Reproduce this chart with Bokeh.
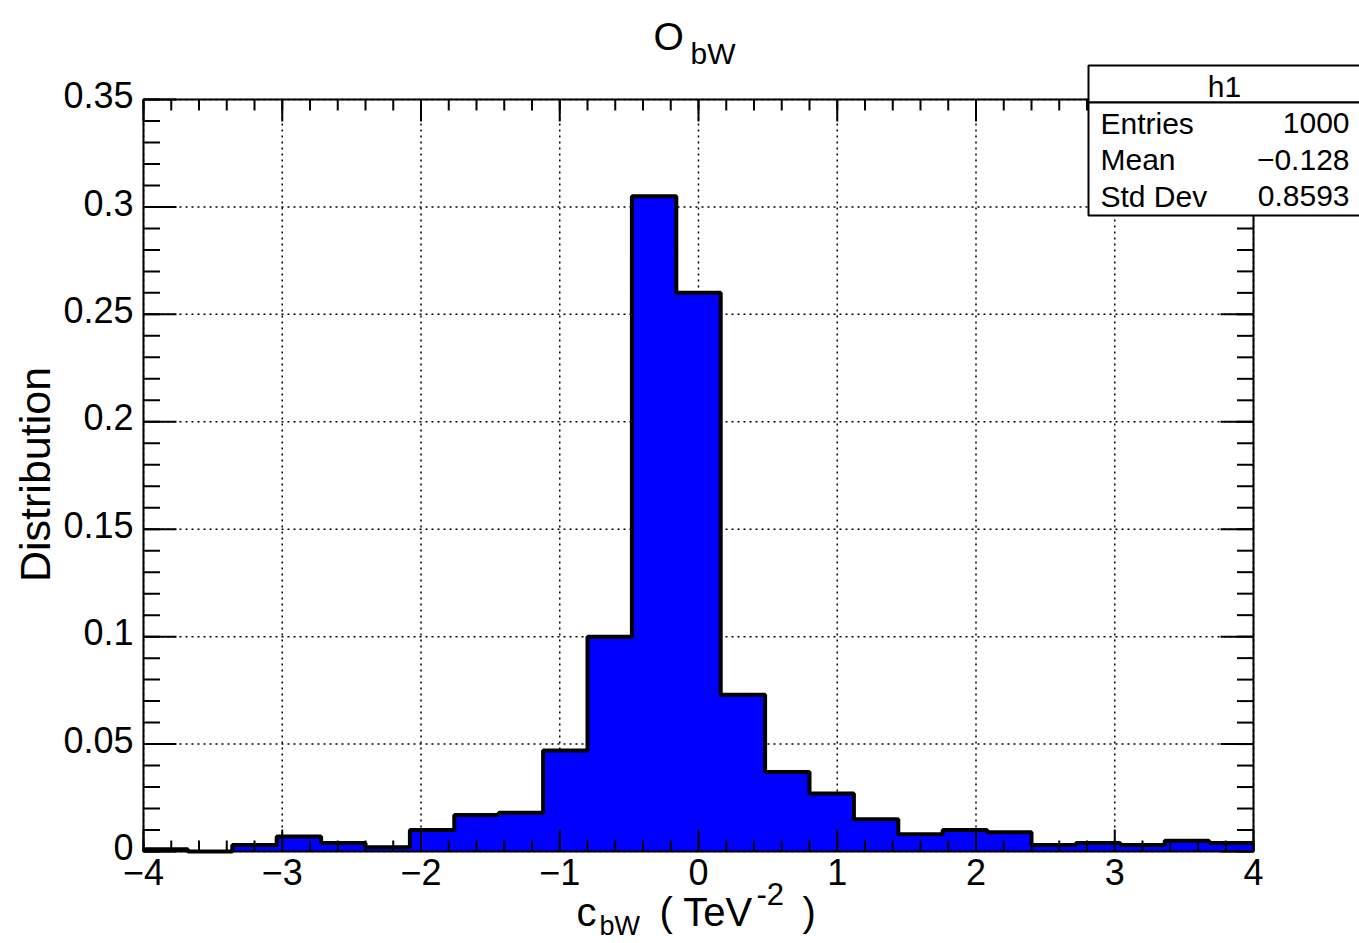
import math
import numpy as np
from bokeh.plotting import figure
from bokeh.models import Range1d
from bokeh.core.properties import value
from bokeh.embed import file_html
from bokeh.resources import INLINE

# ---- histogram h1: c_bW distribution, 25 equal bins on [-4, 4] ----
bin_edges = list(np.linspace(-4.0, 4.0, 26))
bin_values = [0.001, 0.000, 0.003, 0.007, 0.004, 0.002, 0.010, 0.017, 0.018,
              0.047, 0.100, 0.305, 0.260, 0.073, 0.037, 0.027, 0.015, 0.008,
              0.010, 0.009, 0.003, 0.004, 0.003, 0.005, 0.004]

stats_title = "h1"
stats_names = ["Entries", "Mean", "Std Dev"]
stats_values = ["1000", "\u22120.128", "0.8593"]

x_major = [-4, -3, -2, -1, 0, 1, 2, 3, 4]
x_labels = ["\u22124", "\u22123", "\u22122", "\u22121", "0", "1", "2", "3", "4"]
y_major = [0, 0.05, 0.1, 0.15, 0.2, 0.25, 0.3, 0.35]
y_labels = ["0", "0.05", "0.1", "0.15", "0.2", "0.25", "0.3", "0.35"]
x_minor = [round(-4 + 0.2 * i, 2) for i in range(41)]
y_minor = [round(0.01 * i, 2) for i in range(36)]

# ---- canvas geometry: the plotting frame is the whole canvas, the
#      histogram pad occupies the box [L, W-R] x [T, H-B] in pixels ----
W, H = 1359, 943
L, R, T, B = 143, 106, 99, 92
XMIN, XMAX = -4.0, 4.0
YMIN, YMAX = 0.0, 0.35
FONT = "Liberation Sans"
PX = (XMAX - XMIN) / (W - L - R)   # data x per pixel
PY = (YMAX - YMIN) / (H - T - B)   # data y per pixel
# the text glyph sits its alphabetic baseline this fraction of an em low
BASE_FIX = 0.37
BASE_FIX_ROT = 0.42


def sx(px):
    """canvas pixel column -> data x"""
    return XMIN + (px - L) * PX


def sy(py):
    """canvas pixel row (from top) -> data y"""
    return YMIN + (H - B - py) * PY


p = figure(width=W, height=H,
           x_range=Range1d(sx(0), sx(W)), y_range=Range1d(sy(H), sy(0)),
           output_backend="svg", toolbar_location=None, tools="",
           x_axis_location=None, y_axis_location=None, min_border=0)
p.outline_line_color = None
p.background_fill_color = "white"
p.border_fill_color = "white"
p.grid.visible = False

# ---- dotted grid at major ticks ----
p.segment(x0=x_major, x1=x_major, y0=[YMIN] * len(x_major), y1=[YMAX] * len(x_major),
          line_color="black", line_width=1.5, line_dash="2 4")
p.segment(x0=[XMIN] * len(y_major), x1=[XMAX] * len(y_major), y0=y_major, y1=y_major,
          line_color="black", line_width=1.5, line_dash="2 4")

# ---- histogram fill and outline ----
step_y = bin_values + [bin_values[-1]]
p.varea_step(x=bin_edges, y1=[0.0] * len(bin_edges), y2=step_y,
             step_mode="after", fill_color="#0000ff")
p.step(x=bin_edges, y=step_y, mode="after", line_color="black", line_width=4)

# ---- frame ----
p.quad(left=[XMIN], right=[XMAX], bottom=[YMIN], top=[YMAX],
       fill_color=None, line_color="black", line_width=2)

# ---- ticks on all four sides, pointing inward ----
xmaj_len, xmin_len = 22 * PY, 11 * PY
ymaj_len, ymin_len = 33 * PX, 16.5 * PX
for ticks, ln in ((x_major, xmaj_len), (x_minor, xmin_len)):
    n = len(ticks)
    p.segment(x0=ticks, x1=ticks, y0=[YMIN] * n, y1=[YMIN + ln] * n,
              line_color="black", line_width=2)
    p.segment(x0=ticks, x1=ticks, y0=[YMAX] * n, y1=[YMAX - ln] * n,
              line_color="black", line_width=2)
for ticks, ln in ((y_major, ymaj_len), (y_minor, ymin_len)):
    n = len(ticks)
    p.segment(x0=[XMIN] * n, x1=[XMIN + ln] * n, y0=ticks, y1=ticks,
              line_color="black", line_width=2)
    p.segment(x0=[XMAX] * n, x1=[XMAX - ln] * n, y0=ticks, y1=ticks,
              line_color="black", line_width=2)

TICK_SIZE = 36
tick_lift = BASE_FIX * TICK_SIZE
# x tick labels, centred under each major tick (baseline 34 px below the frame)
p.text(x=x_major, y=[YMIN - (34 - tick_lift) * PY] * len(x_major), text=x_labels,
       text_font=value(FONT), text_font_size=value(f"{TICK_SIZE}px"), text_color="black",
       text_align="center", text_baseline="alphabetic")
# y tick labels, right aligned left of the frame (baseline 9 px below the tick)
p.text(x=[XMIN - 10 * PX] * len(y_major), y=[v - (9 - tick_lift) * PY for v in y_major],
       text=y_labels,
       text_font=value(FONT), text_font_size=value(f"{TICK_SIZE}px"), text_color="black",
       text_align="right", text_baseline="alphabetic")


def label(px, py, s, size, align="left", rotated=False):
    if rotated:
        x, y, angle = sx(px - BASE_FIX_ROT * size), sy(py), math.pi / 2
    else:
        x, y, angle = sx(px), sy(py - BASE_FIX * size), 0.0
    p.text(x=[x], y=[y], text=[s], angle=angle,
           text_font=value(FONT), text_font_size=value(f"{size}px"),
           text_color="black", text_align=align, text_baseline="alphabetic")


# ---- title O_bW ----
label(653, 50, "O", 39)
label(690, 64, "bW", 30)

# ---- x axis title c_bW ( TeV^-2 ) ----
label(576, 926, "c", 40)
label(599, 935, "bW", 27)
label(659, 926, "( TeV", 40)
label(756, 905, "-2", 31)
label(802, 926, ")", 40)

# ---- y axis title ----
label(53, 474, "Distribution", 43, align="center", rotated=True)

# ---- statistics box ----
p.quad(left=[sx(1088)] * 2, right=[sx(1362)] * 2,
       top=[sy(65), sy(102)], bottom=[sy(102), sy(215)],
       fill_color="white", line_color="black", line_width=2)
label(1224, 97, stats_title, 30, align="center")
for i, (name, val) in enumerate(zip(stats_names, stats_values)):
    base = 134 + 36.5 * i
    label(1100, base, name, 30)
    label(1349, base, val, 30, align="right")

open("out.html", "w").write(file_html(p, INLINE))
